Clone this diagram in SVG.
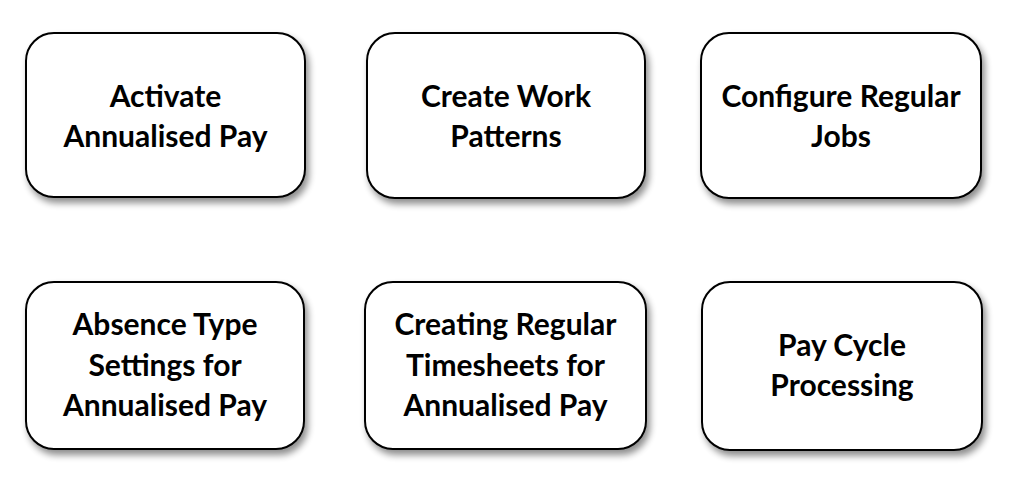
<svg xmlns="http://www.w3.org/2000/svg" width="1023" height="492" viewBox="0 0 1023 492">
<defs>
<filter id="sh" x="-10%" y="-10%" width="130%" height="140%">
<feGaussianBlur in="SourceAlpha" stdDeviation="3.5"/>
<feOffset dx="3" dy="5" result="b"/>
<feComponentTransfer><feFuncA type="linear" slope="0.45"/></feComponentTransfer>
<feMerge><feMergeNode/><feMergeNode in="SourceGraphic"/></feMerge>
</filter>
</defs>
<style>
.box{fill:#fff;stroke:#000;stroke-width:2;filter:url(#sh)}
.t{font-family:"Lato","Liberation Sans",sans-serif;font-weight:bold;font-size:30px;fill:#000;text-anchor:middle}
</style>
<rect width="1023" height="492" fill="#fff"/>
<g id="n1"><rect class="box" x="26" y="33" width="279" height="164" rx="28"/>
<text class="t" x="165.5" y="107">Activate</text><text class="t" x="165.5" y="147">Annualised Pay</text></g>
<g id="n2"><rect class="box" x="367" y="33" width="278" height="165" rx="28"/>
<text class="t" x="506" y="107">Create Work</text><text class="t" x="506" y="147">Patterns</text></g>
<g id="n3"><rect class="box" x="701" y="33" width="280" height="165" rx="28"/>
<text class="t" x="841" y="107">Configure Regular</text><text class="t" x="841" y="147">Jobs</text></g>
<g id="n4"><rect class="box" x="26" y="282" width="278" height="167" rx="28"/>
<text class="t" x="165" y="335">Absence Type</text><text class="t" x="165" y="376">Settings for</text><text class="t" x="165" y="416">Annualised Pay</text></g>
<g id="n5"><rect class="box" x="365" y="282" width="281" height="167" rx="28"/>
<text class="t" x="505.5" y="335">Creating Regular</text><text class="t" x="505.5" y="376">Timesheets for</text><text class="t" x="505.5" y="416">Annualised Pay</text></g>
<g id="n6"><rect class="box" x="702" y="282" width="280" height="168" rx="28"/>
<text class="t" x="842" y="356">Pay Cycle</text><text class="t" x="842" y="396">Processing</text></g>
<g id="connectors"/>
</svg>
